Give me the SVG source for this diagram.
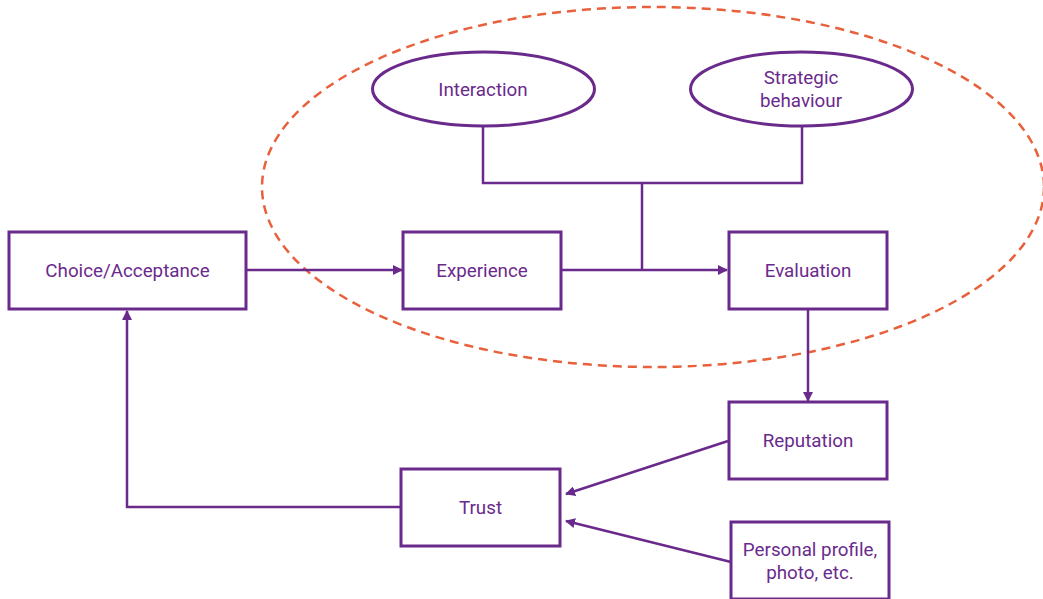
<svg xmlns="http://www.w3.org/2000/svg" width="1043" height="599" viewBox="0 0 1043 599">
<style>
.n{fill:#fff;stroke:#6a2a8c;stroke-width:3}
.t{font-family:Roboto,"Liberation Sans",sans-serif;font-size:18.8px;fill:#6a2a8c;text-anchor:middle}
.c{fill:none;stroke:#6a2a8c;stroke-width:2.5}
</style>
<defs>
<marker id="a" viewBox="0 0 10 10" refX="9" refY="5" markerWidth="4" markerHeight="4" orient="auto" markerUnits="strokeWidth">
<path d="M0,0 L10,5 L0,10 z" fill="#6a2a8c"/>
</marker>
</defs>
<rect width="1043" height="599" fill="#fff"/>
<ellipse cx="653" cy="187" rx="391" ry="180" fill="none" stroke="#e8603c" stroke-width="2.5" stroke-dasharray="9,6"/>
<g id="connectors">
<path class="c" d="M483,126 V183 H802 V126"/>
<path class="c" d="M642,183 V270"/>
<path class="c" d="M561,270 H727" marker-end="url(#a)"/>
<path class="c" d="M246,270 H402" marker-end="url(#a)"/>
<path class="c" d="M808,309 V401" marker-end="url(#a)"/>
<path class="c" d="M728,441 L566,494" marker-end="url(#a)"/>
<path class="c" d="M731,562 L566,521" marker-end="url(#a)"/>
<path class="c" d="M401,507 H127 V311" marker-end="url(#a)"/>
</g>
<g id="interaction"><ellipse class="n" cx="483.5" cy="89" rx="111" ry="37"/><text class="t" x="483" y="95.5">Interaction</text></g>
<g id="strategic"><ellipse class="n" cx="801.5" cy="89" rx="111" ry="37"/><text class="t" x="801" y="84">Strategic</text><text class="t" x="801" y="107">behaviour</text></g>
<g id="choice"><rect class="n" x="9" y="232" width="237" height="77"/><text class="t" x="127.5" y="276.5">Choice/Acceptance</text></g>
<g id="experience"><rect class="n" x="403" y="232" width="158" height="77"/><text class="t" x="482" y="276.5">Experience</text></g>
<g id="evaluation"><rect class="n" x="729" y="232" width="158" height="77"/><text class="t" x="808" y="276.5">Evaluation</text></g>
<g id="reputation"><rect class="n" x="729" y="402" width="158" height="77"/><text class="t" x="808" y="446.5">Reputation</text></g>
<g id="trust"><rect class="n" x="401" y="469" width="159" height="77"/><text class="t" x="480.5" y="513.5">Trust</text></g>
<g id="personal"><rect class="n" x="731" y="522" width="158" height="77"/><text class="t" x="810" y="555.5">Personal profile,</text><text class="t" x="810" y="578.5">photo, etc.</text></g>
</svg>
